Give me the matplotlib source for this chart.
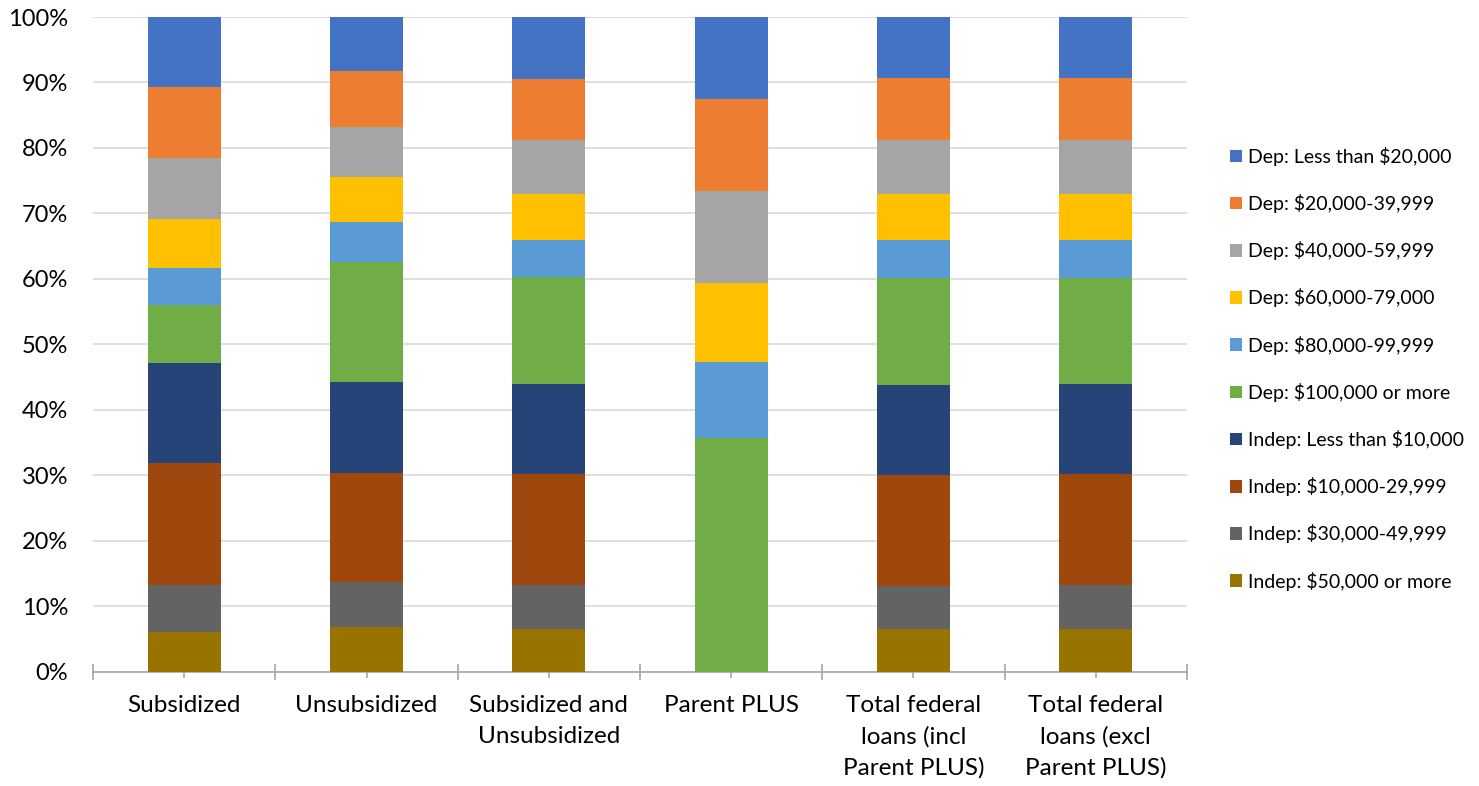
import numpy as np
import matplotlib
matplotlib.use("Agg")
import matplotlib.pyplot as plt
from matplotlib.patches import Patch
from matplotlib.ticker import PercentFormatter

plt.rcParams['font.family'] = ['Lato', 'DejaVu Sans']

# Loan types along the x axis
categories = [
    "Subsidized",
    "Unsubsidized",
    "Subsidized and\nUnsubsidized",
    "Parent PLUS",
    "Total federal\nloans (incl\nParent PLUS)",
    "Total federal\nloans (excl\nParent PLUS)",
]

# Income groups, bottom of the stack first
groups = [
    "Indep: $50,000 or more",
    "Indep: $30,000-49,999",
    "Indep: $10,000-29,999",
    "Indep: Less than $10,000",
    "Dep: $100,000 or more",
    "Dep: $80,000-99,999",
    "Dep: $60,000-79,000",
    "Dep: $40,000-59,999",
    "Dep: $20,000-39,999",
    "Dep: Less than $20,000",
]

colors = [
    "#997300", "#636363", "#9E480E", "#264478", "#70AD47",
    "#5B9BD5", "#FFC000", "#A5A5A5", "#ED7D31", "#4472C4",
]

# Share of borrowers (%) per loan type, one list per income group
indep_50k_plus = [6.0, 6.8, 6.5, 0.0, 6.5, 6.5]
indep_30k_50k = [7.2, 6.9, 6.7, 0.0, 6.6, 6.7]
indep_10k_30k = [18.7, 16.6, 17.0, 0.0, 16.9, 16.9]
indep_under_10k = [15.3, 13.9, 13.8, 0.0, 13.7, 13.8]
dep_100k_plus = [8.8, 18.3, 16.2, 35.7, 16.45, 16.25]
dep_80k_100k = [5.6, 6.2, 5.7, 11.55, 5.75, 5.75]
dep_60k_80k = [7.6, 6.8, 7.0, 12.15, 7.05, 7.05]
dep_40k_60k = [9.3, 7.7, 8.35, 14.05, 8.3, 8.3]
dep_20k_40k = [10.75, 8.5, 9.35, 13.95, 9.45, 9.45]
dep_under_20k = [10.75, 8.3, 9.4, 12.6, 9.4, 9.4]

series = [
    indep_50k_plus, indep_30k_50k, indep_10k_30k, indep_under_10k,
    dep_100k_plus, dep_80k_100k, dep_60k_80k, dep_40k_60k,
    dep_20k_40k, dep_under_20k,
]

fig = plt.figure(figsize=(14.79, 7.86), dpi=100)
ax = fig.add_axes([93 / 1479, 1 - 671.5 / 786, 1094 / 1479, 654.5 / 786])

x = np.arange(len(categories))
bottom = np.zeros(len(categories))
for vals, col in zip(series, colors):
    vals = np.array(vals)
    ax.bar(x, vals, width=0.4, bottom=bottom, color=col, linewidth=0, zorder=3)
    bottom += vals

ax.set_xlim(-0.5, len(categories) - 0.5)
ax.set_ylim(0, 100)
ax.set_yticks(np.arange(0, 101, 10))
ax.yaxis.set_major_formatter(PercentFormatter(decimals=0))
ax.grid(axis='y', color='#d9d9d9', linewidth=1.2, zorder=0)

for side in ['top', 'right', 'left']:
    ax.spines[side].set_visible(False)
ax.spines['bottom'].set_color('#a6a6a6')
ax.spines['bottom'].set_linewidth(1.2)

ax.set_xticks(x)
ax.set_xticklabels(categories, linespacing=1.55)
ax.set_xticks(np.arange(-0.5, len(categories), 1), minor=True)
ax.tick_params(axis='x', which='major', direction='inout', length=8.5,
               width=1.2, color='#a6a6a6', labelsize=17.5, pad=13)
ax.tick_params(axis='x', which='minor', direction='inout', length=12,
               width=1.2, color='#a6a6a6')
ax.tick_params(axis='y', length=0, labelsize=17, pad=18)

handles = [Patch(facecolor=c, edgecolor='none') for c in colors[::-1]]
fig.legend(handles, groups[::-1], loc='center left',
           bbox_to_anchor=(1230 / 1479, 1 - 368.7 / 786),
           frameon=False, fontsize=14, handlelength=0.62, handleheight=0.62,
           handletextpad=0.3, labelspacing=1.45, borderpad=0, borderaxespad=0)

plt.savefig('out.png', dpi=100)
plt.close()
